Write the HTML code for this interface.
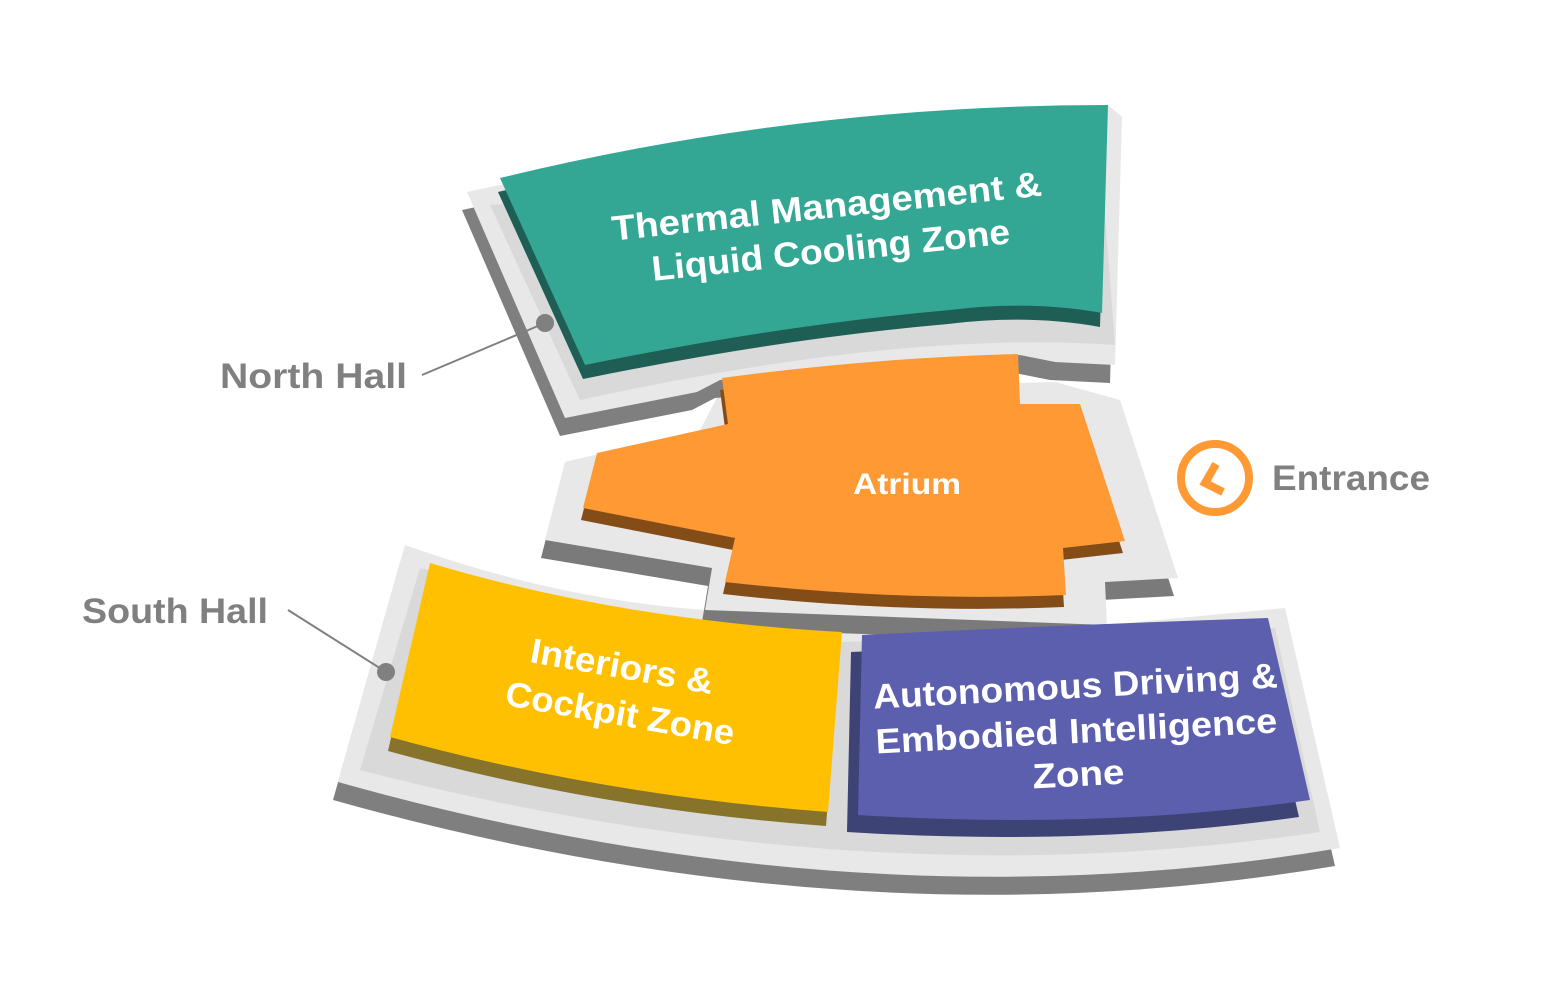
<!DOCTYPE html>
<html><head><meta charset="utf-8"><style>
html,body{margin:0;padding:0;background:#fff;}
svg{display:block;}
text{font-family:"Liberation Sans",sans-serif;font-weight:bold;}
</style></head><body>
<svg width="1549" height="1003" viewBox="0 0 1549 1003" xmlns="http://www.w3.org/2000/svg">
<!-- South platform -->
<path d="M405,545 Q560,600 705,610 L1105,625 L1285,608 L1340,848 Q861,929 338,782 Z" fill="#7f7f7f" transform="translate(-5,18)"/>
<path d="M405,545 Q560,600 705,610 L1105,625 L1285,608 L1340,848 Q861,929 338,782 Z" fill="#e8e8e8"/>
<path d="M420,568 Q600,612 842,642 L1275,628 L1320,832 Q861,900 360,770 Z" fill="#d9d9d9"/>
<!-- Atrium platform -->
<path d="M565,462 L700,430 L720,392 L1055,382 L1120,400 L1178,578 L1105,582 L1107,625 L705,610 L712,568 L545,540 Z" fill="#7a7a7a" transform="translate(-4,18)"/>
<path d="M565,462 L700,430 L720,392 L1055,382 L1120,400 L1178,578 L1105,582 L1107,625 L705,610 L712,568 L545,540 Z" fill="#e8e8e8"/>
<!-- North platform -->
<path d="M467,192 Q800,120 1108,105 L1122,117 L1115,365 L1055,362 L1020,355 L720,380 L697,392 L565,418 Z" fill="#7f7f7f" transform="translate(-5,18)"/>
<path d="M467,192 Q800,120 1108,105 L1122,117 L1115,365 L1055,362 L1020,355 L720,380 L697,392 L565,418 Z" fill="#e8e8e8"/>
<path d="M490,205 L1100,150 L1115,345 Q900,330 580,400 Z" fill="#d9d9d9"/>
<!-- Teal -->
<path d="M500,178 Q800,105 1108,105 L1102,313 Q1030,300 950,310 Q780,325 585,365 Z" fill="#1e5e54" transform="translate(-2,14)"/>
<path d="M500,178 Q800,105 1108,105 L1102,313 Q1030,300 950,310 Q780,325 585,365 Z" fill="#34a794"/>
<!-- Atrium -->
<path d="M722,378 Q870,358 1018,354 L1020,404 L1080,404 L1125,541 L1063,548 L1066,595 Q900,602 725,582 L735,538 L583,508 L597,453 L728,424 Z" fill="#844d18" transform="translate(-2,12)"/>
<path d="M722,378 Q870,358 1018,354 L1020,404 L1080,404 L1125,541 L1063,548 L1066,595 Q900,602 725,582 L735,538 L583,508 L597,453 L728,424 Z" fill="#fe9933"/>
<!-- Yellow -->
<path d="M430,563 Q620,620 842,632 L828,812 Q600,795 390,737 Z" fill="#88732a" transform="translate(-2,14)"/>
<path d="M430,563 Q620,620 842,632 L828,812 Q600,795 390,737 Z" fill="#fec000"/>
<!-- Purple -->
<path d="M862,635 Q1060,625 1268,618 L1310,800 Q1100,830 858,815 Z" fill="#3e4375" transform="translate(-11,17)"/>
<path d="M862,635 Q1060,625 1268,618 L1310,800 Q1100,830 858,815 Z" fill="#5b5fae"/>
<!-- Labels in zones -->
<g fill="#fff" font-size="35" text-anchor="middle">
<text x="828" y="218" transform="rotate(-6 828 218)" textLength="432" lengthAdjust="spacingAndGlyphs">Thermal Management &amp;</text>
<text x="832" y="262" transform="rotate(-6 832 262)" textLength="360" lengthAdjust="spacingAndGlyphs">Liquid Cooling Zone</text>
<text x="620" y="678" transform="rotate(10 620 678)" textLength="185" lengthAdjust="spacingAndGlyphs">Interiors &amp;</text>
<text x="618" y="725" transform="rotate(10 618 725)" textLength="232" lengthAdjust="spacingAndGlyphs">Cockpit Zone</text>
<text x="1076" y="698" transform="rotate(-3 1076 698)" textLength="405" lengthAdjust="spacingAndGlyphs">Autonomous Driving &amp;</text>
<text x="1077" y="743" transform="rotate(-3 1077 743)" textLength="402" lengthAdjust="spacingAndGlyphs">Embodied Intelligence</text>
<text x="1079" y="786" transform="rotate(-3 1079 786)" textLength="92" lengthAdjust="spacingAndGlyphs">Zone</text>
<text x="907" y="494" font-size="30" textLength="108" lengthAdjust="spacingAndGlyphs">Atrium</text>
</g>
<!-- Outside labels -->
<g fill="#808080" font-size="35">
<text x="220" y="388" textLength="187" lengthAdjust="spacingAndGlyphs">North Hall</text>
<text x="82" y="623" textLength="186" lengthAdjust="spacingAndGlyphs">South Hall</text>
<text x="1272" y="490" textLength="158" lengthAdjust="spacingAndGlyphs">Entrance</text>
</g>
<line x1="422" y1="375" x2="545" y2="323" stroke="#808080" stroke-width="2"/>
<circle cx="545" cy="323" r="9" fill="#808080"/>
<line x1="288" y1="610" x2="386" y2="672" stroke="#808080" stroke-width="2"/>
<circle cx="386" cy="672" r="9" fill="#808080"/>
<!-- Entrance icon -->
<circle cx="1215" cy="478" r="34" fill="#fff" stroke="#fe9933" stroke-width="8"/>
<path d="M1216,464 L1205,483 L1223,492" fill="none" stroke="#fe9933" stroke-width="8"/>
</svg>
</body></html>
